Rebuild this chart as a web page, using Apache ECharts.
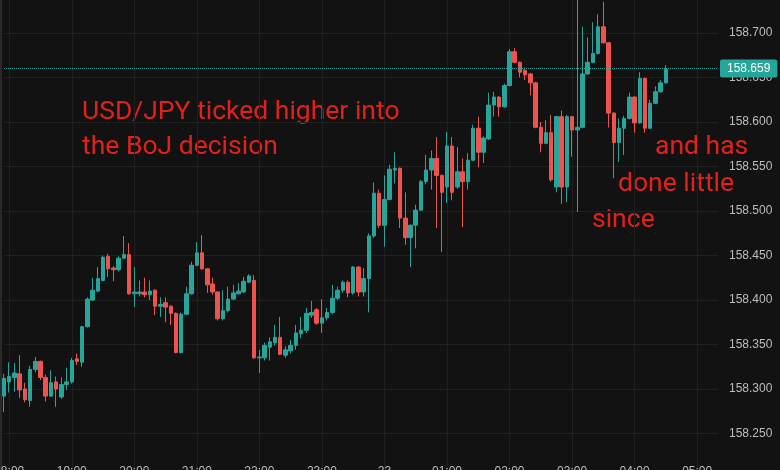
<!DOCTYPE html>
<html>
<head>
<meta charset="utf-8">
<script src="https://cdn.jsdelivr.net/npm/echarts@6/dist/echarts.min.js"></script>
<style>
html, body { margin: 0; padding: 0; background: #121212; }
#chart { width: 780px; height: 470px; }
</style>
</head>
<body>
<div id="chart"></div>
<script>
// USD/JPY 5-minute candles, 17:55 through 04:30 (slots run on to 05:20)
const firstSlot = 17 * 60 + 55
const slotCount = 138
const times = []
for (let i = 0; i < slotCount; i++) {
  const m = (firstSlot + i * 5) % (24 * 60)
  times.push(String(Math.floor(m / 60)).padStart(2, '0') + ':' + String(m % 60).padStart(2, '0'))
}

const opens = [
  158.292, 158.308, 158.313, 158.317, 158.300, 158.287, 158.322, 158.331, 158.313, 158.292,
  158.308, 158.291, 158.305, 158.308, 158.334, 158.330, 158.370, 158.400, 158.410, 158.422,
  158.449, 158.436, 158.434, 158.447, 158.451, 158.407, 158.407, 158.409, 158.406, 158.411,
  158.393, 158.397, 158.393, 158.385, 158.341, 158.384, 158.407, 158.439, 158.453, 158.435,
  158.418, 158.409, 158.379, 158.388, 158.401, 158.407, 158.409, 158.420, 158.422, 158.335,
  158.335, 158.347, 158.352, 158.358, 158.338, 158.343, 158.349, 158.362, 158.366, 158.383,
  158.389, 158.374, 158.380, 158.386, 158.402, 158.411, 158.420, 158.408, 158.437, 158.409,
  158.424, 158.472, 158.520, 158.484, 158.513, 158.546, 158.548, 158.492, 158.470, 158.484,
  158.501, 158.533, 158.546, 158.559, 158.540, 158.527, 158.573, 158.527, 158.544, 158.533,
  158.557, 158.593, 158.566, 158.581, 158.619, 158.628, 158.617, 158.641, 158.679, 158.667,
  158.658, 158.654, 158.644, 158.594, 158.576, 158.588, 158.527, 158.606, 158.527, 158.606,
  158.591, 158.594, 158.654, 158.667, 158.677, 158.707, 158.689, 158.610, 158.577, 158.593,
  158.604, 158.628, 158.599, 158.649, 158.593, 158.621, 158.634, 158.644
]
const closes = [
  158.312, 158.314, 158.318, 158.299, 158.288, 158.322, 158.331, 158.313, 158.292, 158.307,
  158.300, 158.305, 158.308, 158.332, 158.331, 158.370, 158.401, 158.411, 158.424, 158.448,
  158.435, 158.434, 158.447, 158.451, 158.407, 158.409, 158.409, 158.406, 158.410, 158.393,
  158.395, 158.392, 158.385, 158.341, 158.384, 158.407, 158.439, 158.453, 158.435, 158.417,
  158.409, 158.379, 158.388, 158.401, 158.408, 158.410, 158.421, 158.427, 158.335, 158.336,
  158.349, 158.353, 158.358, 158.339, 158.344, 158.349, 158.363, 158.366, 158.385, 158.386,
  158.374, 158.380, 158.386, 158.402, 158.411, 158.420, 158.408, 158.437, 158.409, 158.424,
  158.472, 158.520, 158.484, 158.513, 158.547, 158.548, 158.492, 158.470, 158.484, 158.501,
  158.533, 158.546, 158.559, 158.540, 158.521, 158.573, 158.521, 158.544, 158.533, 158.557,
  158.593, 158.566, 158.582, 158.619, 158.628, 158.617, 158.641, 158.679, 158.667, 158.656,
  158.653, 158.644, 158.594, 158.576, 158.588, 158.535, 158.606, 158.527, 158.606, 158.591,
  158.594, 158.654, 158.667, 158.677, 158.707, 158.689, 158.610, 158.577, 158.593, 158.604,
  158.628, 158.599, 158.649, 158.593, 158.621, 158.634, 158.644, 158.659
]
const lows = [
  158.274, 158.296, 158.297, 158.290, 158.285, 158.280, 158.319, 158.310, 158.286, 158.291,
  158.280, 158.289, 158.299, 158.306, 158.327, 158.325, 158.369, 158.399, 158.409, 158.421,
  158.426, 158.421, 158.432, 158.446, 158.406, 158.392, 158.404, 158.403, 158.400, 158.383,
  158.381, 158.375, 158.372, 158.340, 158.340, 158.383, 158.406, 158.438, 158.434, 158.408,
  158.406, 158.377, 158.377, 158.386, 158.400, 158.406, 158.408, 158.419, 158.334, 158.318,
  158.332, 158.332, 158.349, 158.338, 158.335, 158.340, 158.344, 158.357, 158.363, 158.380,
  158.372, 158.363, 158.377, 158.384, 158.400, 158.408, 158.403, 158.406, 158.404, 158.404,
  158.386, 158.470, 158.481, 158.460, 158.512, 158.531, 158.481, 158.462, 158.437, 158.458,
  158.500, 158.530, 158.524, 158.481, 158.454, 158.509, 158.512, 158.525, 158.482, 158.524,
  158.556, 158.549, 158.554, 158.580, 158.606, 158.606, 158.616, 158.640, 158.666, 158.650,
  158.647, 158.630, 158.593, 158.566, 158.575, 158.533, 158.521, 158.508, 158.510, 158.561,
  158.499, 158.593, 158.653, 158.666, 158.676, 158.688, 158.594, 158.537, 158.555, 158.563,
  158.603, 158.588, 158.598, 158.588, 158.592, 158.620, 158.633, 158.643
]
const highs = [
  158.317, 158.330, 158.329, 158.338, 158.307, 158.326, 158.336, 158.332, 158.316, 158.321,
  158.314, 158.313, 158.324, 158.335, 158.340, 158.371, 158.403, 158.425, 158.437, 158.450,
  158.452, 158.438, 158.449, 158.472, 158.464, 158.437, 158.422, 158.425, 158.422, 158.412,
  158.403, 158.403, 158.394, 158.386, 158.386, 158.415, 158.443, 158.465, 158.473, 158.436,
  158.425, 158.410, 158.411, 158.415, 158.417, 158.419, 158.426, 158.429, 158.428, 158.344,
  158.352, 158.358, 158.372, 158.381, 158.348, 158.355, 158.372, 158.381, 158.391, 158.399,
  158.391, 158.401, 158.391, 158.417, 158.415, 158.422, 158.422, 158.438, 158.438, 158.436,
  158.475, 158.532, 158.524, 158.540, 158.552, 158.566, 158.549, 158.521, 158.485, 158.507,
  158.535, 158.563, 158.568, 158.583, 158.541, 158.589, 158.583, 158.572, 158.559, 158.565,
  158.597, 158.606, 158.584, 158.633, 158.634, 158.629, 158.643, 158.682, 158.683, 158.668,
  158.661, 158.655, 158.645, 158.600, 158.602, 158.608, 158.607, 158.613, 158.608, 158.607,
  158.746, 158.707, 158.695, 158.712, 158.721, 158.735, 158.690, 158.611, 158.604, 158.607,
  158.633, 158.629, 158.656, 158.650, 158.625, 158.640, 158.647, 158.664
]

const priceTicks = { min: 158.2, max: 158.75, step: 0.05 }
const lastPrice = closes[closes.length - 1]

const upColor = '#26a69a'
const downColor = '#ef5350'
const noteColor = '#e3201b'

const candles = opens.map((o, i) => [o, closes[i], lows[i], highs[i]])

const chart = echarts.init(document.getElementById('chart'), null, { renderer: 'canvas' })

const noteFont = { fontFamily: 'Roboto', fontSize: 26.5, fill: noteColor }

chart.setOption({
  backgroundColor: '#121212',
  animation: false,
  grid: { left: 4, right: 62, top: -11.5, bottom: -8, outerBoundsMode: 'none' },
  xAxis: {
    type: 'category',
    data: times,
    boundaryGap: false,
    offset: -22,
    axisLine: { show: false },
    axisTick: { show: false },
    axisLabel: {
      interval: (idx, val) => val.endsWith(':00'),
      formatter: (val) => (val === '00:00' ? '23' : val),
      color: '#bdbdbd',
      fontSize: 12,
      fontFamily: 'Liberation Sans',
      margin: 10,
    },
    splitLine: {
      show: true,
      interval: (idx, val) => val.endsWith(':00'),
      lineStyle: { color: '#202020', width: 1 },
    },
  },
  yAxis: {
    type: 'value',
    position: 'right',
    scale: true,
    min: priceTicks.min,
    max: priceTicks.max,
    interval: priceTicks.step,
    axisLine: { show: false },
    axisTick: { show: false },
    axisLabel: {
      formatter: (v) => v.toFixed(3),
      color: '#bdbdbd',
      fontSize: 12,
      fontFamily: 'Liberation Sans',
      margin: 11,
    },
    splitLine: { lineStyle: { color: '#202020', width: 1 } },
  },
  graphic: [
    { type: 'rect', left: 0, top: 0, shape: { width: 2, height: 470 }, style: { fill: '#2a2a2a' } },
    { type: 'text', left: 82, top: 99, style: { ...noteFont, text: 'USD/JPY ticked higher into' } },
    { type: 'text', left: 82, top: 134, style: { ...noteFont, text: 'the BoJ decision' } },
    { type: 'text', left: 655, top: 134, style: { ...noteFont, text: 'and has' } },
    { type: 'text', left: 618, top: 171, style: { ...noteFont, text: 'done little' } },
    { type: 'text', left: 592, top: 207, style: { ...noteFont, text: 'since' } },
  ],
  series: [
    {
      type: 'candlestick',
      data: candles,
      barWidth: 4,
      clip: false,
      itemStyle: {
        color: upColor,
        color0: downColor,
        borderColor: upColor,
        borderColor0: downColor,
        borderWidth: 1,
      },
      markLine: {
        silent: true,
        symbol: ['none', 'none'],
        lineStyle: { type: 'dotted', color: upColor, width: 1 },
        label: {
          position: 'end',
          distance: 2,
          formatter: lastPrice.toFixed(3),
          color: '#ffffff',
          backgroundColor: upColor,
          padding: [3, 7],
          fontSize: 12,
          fontFamily: 'Liberation Sans',
          borderRadius: 2,
        },
        data: [{ yAxis: lastPrice }],
      },
    },
  ],
})
</script>
</body>
</html>
